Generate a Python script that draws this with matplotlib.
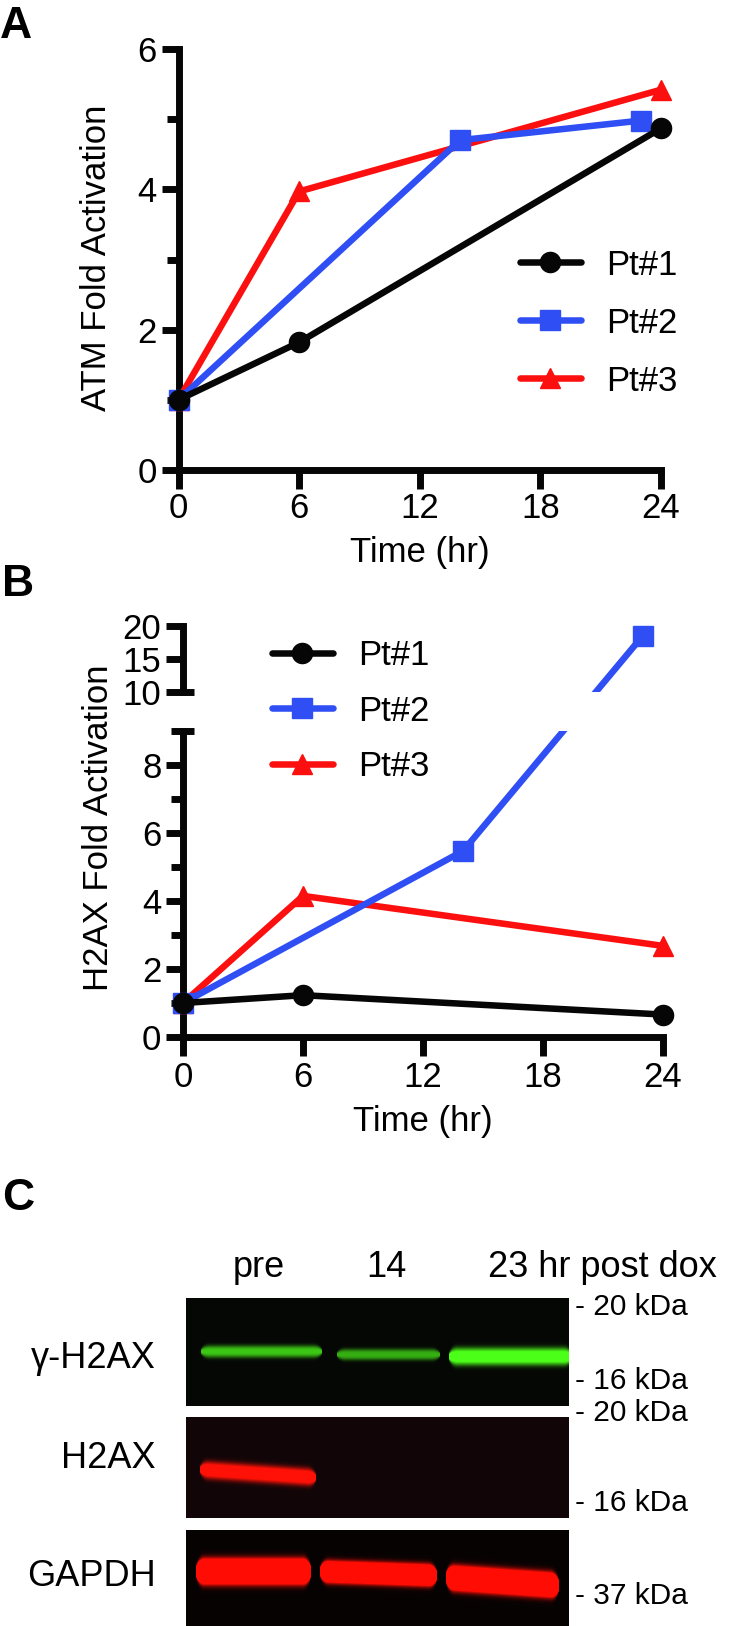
import numpy as np
import matplotlib
matplotlib.use("Agg")
import matplotlib.pyplot as plt
from matplotlib.patches import Rectangle
from matplotlib.spines import Spine

W, H = 752, 1626
BLACK = "#060606"
BLUE = "#2f4ff5"
RED = "#fb0f0f"
NAMES = ["Pt#1", "Pt#2", "Pt#3"]
COLORS = [BLACK, BLUE, RED]
MARKERS = ["o", "s", "^"]
LW = 4.7
MS = 14.5

# panel A
a_x = [[0, 6, 24], [0, 14, 23], [0, 6, 24]]
a_y = [[1, 1.82, 4.87], [1, 4.7, 4.98], [1, 3.97, 5.42]]
# panel B
b_x = [[0, 6, 24], [0, 14, 23], [0, 6, 24]]
b_y = [[1, 1.23, 0.66], [1, 5.47, 18.5], [1, 4.15, 2.68]]
time_ticks = [0, 6, 12, 18, 24]

# blots: [x0, x1, y at x0, y at x1, thickness, peak] in pixels from blot corner
gamma_bands = [[14, 136, 53, 53, 12, 0.78], [150, 254, 56, 56, 11, 0.68], [262, 386, 58, 58, 17, 1.2]]
h2ax_bands = [[13, 130, 52, 60, 17, 1.3]]
gapdh_bands = [[9, 125, 41, 41, 24, 3], [133, 251, 41, 45, 20, 3], [259, 373, 47, 55, 23, 3]]
kda_labels = ["- 20 kDa", "- 16 kDa", "- 20 kDa", "- 16 kDa", "- 37 kDa"]
kda_y = [1307, 1381, 1413, 1503, 1596]
lane_labels = ["pre", "14", "23 hr post dox"]
lane_x = [259, 386, 602]
row_labels = ["γ-H2AX", "H2AX", "GAPDH"]
row_y = [1358, 1459, 1576]

plt.rcParams["font.family"] = ["Liberation Sans", "DejaVu Sans"]
FS = 25.0
fig = plt.figure(figsize=(W / 100, H / 100), dpi=100)


def make_axes(left, right, top, bottom):
    return fig.add_axes([left / W, 1 - bottom / H, (right - left) / W, (bottom - top) / H])


def style_axes(ax, x_pad):
    ax.patch.set_visible(False)
    for s in ["top", "right"]:
        ax.spines[s].set_visible(False)
    for s in ["left", "bottom"]:
        ax.spines[s].set_linewidth(5)
        ax.spines[s].set_color(BLACK)
    ax.set_xlim(0, 24)
    ax.set_xticks(time_ticks)
    ax.tick_params(axis="x", length=13.5, width=5, color=BLACK, labelsize=FS, pad=x_pad)
    ax.tick_params(axis="y", which="major", length=12.5, width=5, color=BLACK, labelsize=FS, pad=3)
    ax.tick_params(axis="y", which="minor", length=9, width=5, color=BLACK)


def add_text(x, y, s, **kw):
    kw.setdefault("fontsize", FS)
    kw.setdefault("va", "center")
    fig.text(x / W, 1 - y / H, s, **kw)


def add_legend(ax, x, y, spacing):
    handles = [plt.Line2D([], [], color=c, marker=m, lw=LW, ms=MS, solid_capstyle="round", label=n)
               for n, c, m in zip(NAMES, COLORS, MARKERS)]
    ax.legend(handles=handles, loc="center left", bbox_to_anchor=(x, y), frameon=False, fontsize=FS,
              borderpad=0, borderaxespad=0, handlelength=1.75, handletextpad=0.72, labelspacing=spacing)


# A
ax = make_axes(178.5, 661, 49, 470)
style_axes(ax, 2.5)
ax.set_ylim(0, 6)
ax.set_yticks([0, 2, 4, 6])
ax.set_yticks([1, 3, 5], minor=True)
for i in [2, 1, 0]:
    ax.plot(a_x[i], a_y[i], color=COLORS[i], marker=MARKERS[i], lw=LW, ms=MS, clip_on=False, zorder=3 + (2 - i))
add_legend(ax, (520 - 178.5) / 482.5, (470 - 323) / 421, 0.72)
add_text(97, 258, "ATM Fold Activation", rotation=90, ha="center")
add_text(420, 552, "Time (hr)", ha="center")


# B: broken y axis, one scale with a gap between 9 and 10
break_data = [0, 9, 10, 20]
break_px = [0, 306, 345, 411.4]


def forward(v):
    return np.interp(v, break_data, break_px)


def inverse(v):
    return np.interp(v, break_px, break_data)


ax = make_axes(183, 663, 625.6, 1037)
style_axes(ax, 3.5)
ax.set_yscale("function", functions=(forward, inverse))
ax.set_ylim(0, 20)
ax.set_yticks([0, 2, 4, 6, 8, 10, 15, 20])
ax.set_yticklabels(["0", "2", "4", "6", "8", "10", "15", "20"])
ax.set_yticks([1, 3, 5, 7, 9], minor=True)
ax.spines["left"].set_bounds(0, 9)
upper = Spine.linear_spine(ax, "left")
upper.set_bounds(10, 20)
upper.set_linewidth(5)
upper.set_color(BLACK)
ax.spines["left_upper"] = upper
# caps either side of the break
cap_trans = ax.get_yaxis_transform()
for v in [9, 10]:
    ax.plot([0, 11 / 480], [v, v], transform=cap_trans, color=BLACK, lw=5, clip_on=False, solid_capstyle="butt")

for i in [2, 1, 0]:
    if i == 1:
        for y0, h in [(0, 9), (10, 10)]:
            seg, = ax.plot(b_x[i], b_y[i], color=COLORS[i], lw=LW, zorder=4)
            seg.set_clip_path(Rectangle((-2, y0), 28, h, transform=ax.transData))
        ax.plot(b_x[i], b_y[i], color=COLORS[i], marker=MARKERS[i], ls="none", ms=MS, clip_on=False, zorder=4)
    else:
        ax.plot(b_x[i], b_y[i], color=COLORS[i], marker=MARKERS[i], lw=LW, ms=MS, clip_on=False, zorder=3 + (2 - i))
add_legend(ax, (272 - 183) / 480, (1037 - 711) / 411.4, 0.64)
add_text(99, 828, "H2AX Fold Activation", rotation=90, ha="center")
add_text(423, 1122, "Time (hr)", ha="center")


# C: western blot strips
def draw_blot(top, bottom, bands, color, background):
    ax = make_axes(186, 569, top, bottom)
    h, w = bottom - top, 383
    yy, xx = np.mgrid[0:h, 0:w]
    signal = np.zeros((h, w))
    for x0, x1, y0, y1, thick, peak in bands:
        centre = y0 + (y1 - y0) * (xx - x0) / (x1 - x0)
        # round off the band ends
        r = 9.0
        d = np.clip(np.minimum(xx - x0, x1 - xx) / r, 0.001, 1)
        half = thick / 2 * np.sqrt(1 - (1 - d) ** 2)
        across = np.exp(-np.abs((yy - centre) / half) ** 3)
        along = (xx > x0) & (xx < x1)
        signal += peak * across * along
    signal = np.clip(signal, 0, 1)[..., None]
    img = np.array(background) * (1 - signal) + np.array(color) * signal
    ax.imshow(img, aspect="auto", extent=(0, w, h, 0), interpolation="bicubic")
    ax.axis("off")


draw_blot(1298, 1406, gamma_bands, (0.30, 1.0, 0.10), (0.02, 0.03, 0.02))
draw_blot(1417, 1518, h2ax_bands, (1.0, 0.07, 0.03), (0.07, 0.02, 0.03))
draw_blot(1530, 1626, gapdh_bands, (1.0, 0.05, 0.02), (0.03, 0.01, 0.01))

for x, s in zip(lane_x, lane_labels):
    add_text(x, 1267, s, ha="center", fontsize=26)
for y, s in zip(row_y, row_labels):
    add_text(156, y, s, ha="right", fontsize=26)
for y, s in zip(kda_y, kda_labels):
    add_text(575, y, s, ha="left", fontsize=21.5)

add_text(0, 26, "A", fontweight="bold", fontsize=32)
add_text(2, 585, "B", fontweight="bold", fontsize=32)
add_text(2, 1198, "C", fontweight="bold", fontsize=32)

fig.savefig("out.png", dpi=100)
